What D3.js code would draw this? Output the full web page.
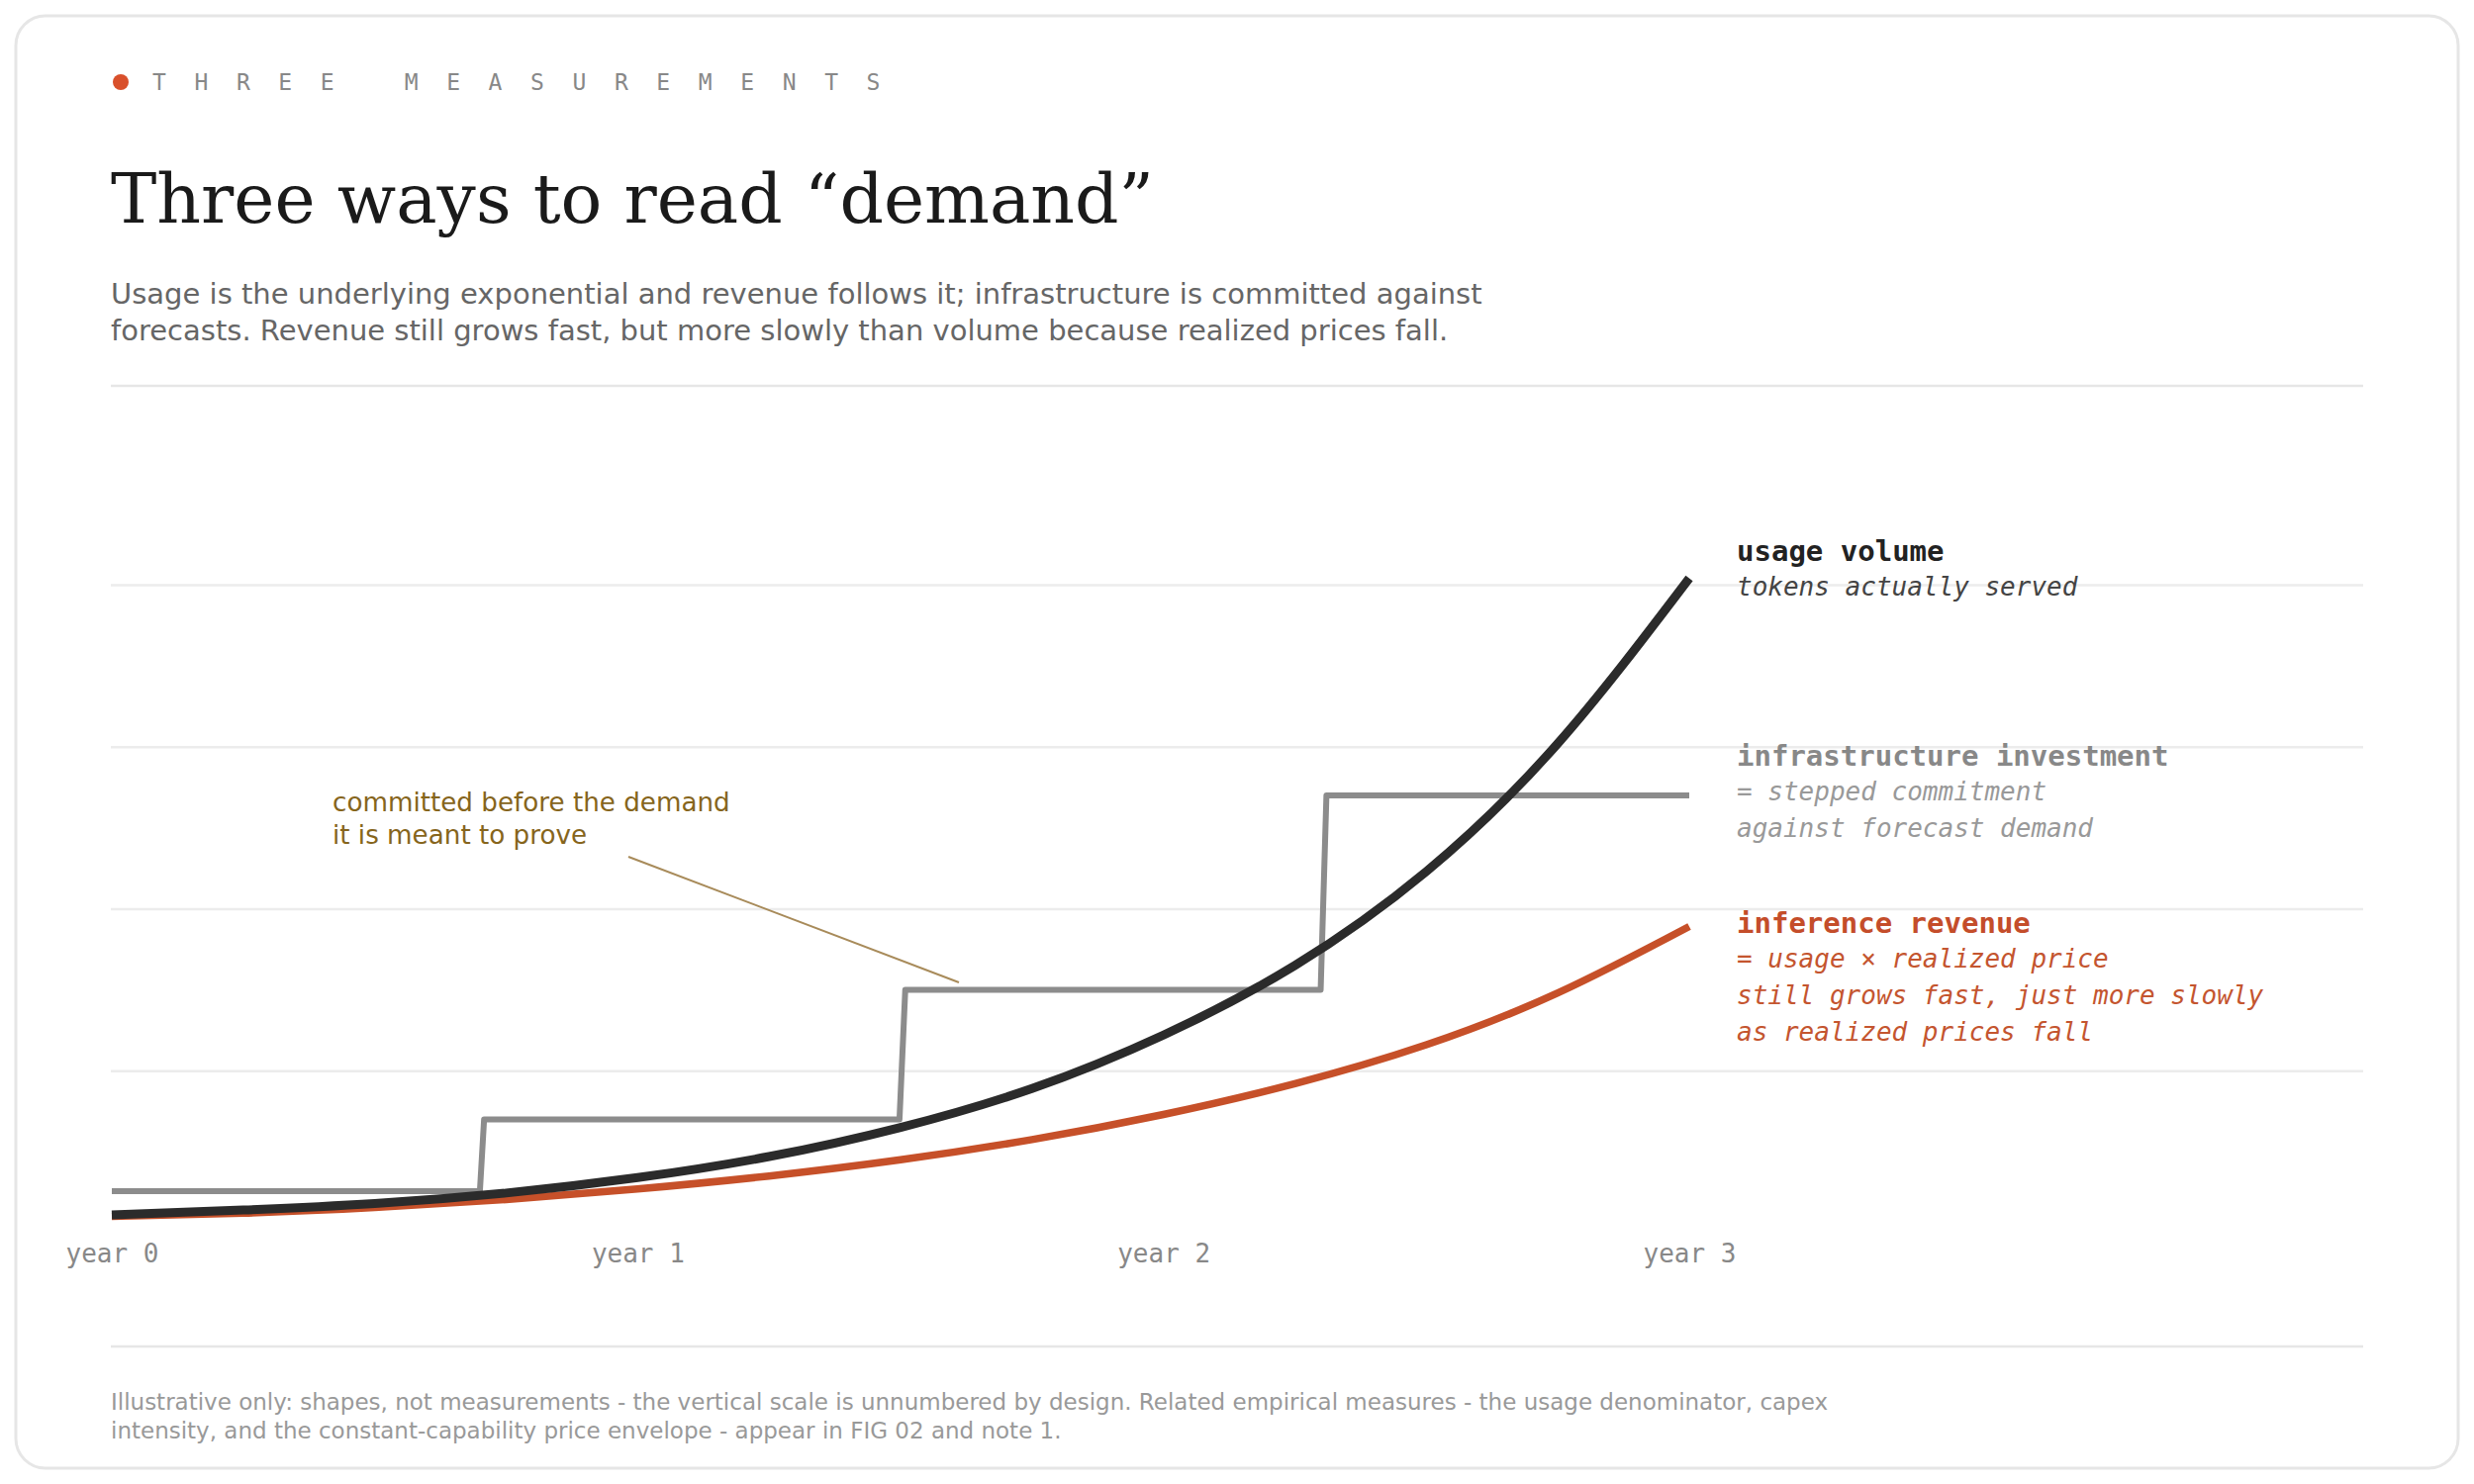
<!DOCTYPE html>
<html>
<head>
<meta charset="utf-8">
<script src="https://cdn.jsdelivr.net/npm/d3@7"></script>
<style>
  body { margin: 0; background: #fff; }
  .mono { font-family: "DejaVu Sans Mono", monospace; }
  .sans { font-family: "DejaVu Sans", sans-serif; }
</style>
</head>
<body>
<div id="chart"></div>
<script>
// Years on the x axis and the (unitless) curve shapes
const yearTicks = [0, 1, 2, 3];
const yearLabels = ["year 0", "year 1", "year 2", "year 3"];
const gridValues = [1, 2, 3, 4];

const usageT = [0, 0.25, 0.5, 0.75, 1, 1.25, 1.5, 1.75, 2, 2.25, 2.5, 2.75, 3];
const usageV = [0.11, 0.14, 0.18, 0.245, 0.34, 0.47, 0.65, 0.89, 1.22, 1.65, 2.23, 3.02, 4.04];
const revenueV = [0.10, 0.12, 0.155, 0.205, 0.27, 0.35, 0.45, 0.575, 0.73, 0.92, 1.16, 1.48, 1.89];

// stepped infrastructure commitment
const infraT = [0, 0.700, 0.708, 1.498, 1.509, 2.299, 2.310, 3];
const infraV = [0.257, 0.257, 0.70, 0.70, 1.50, 1.50, 2.70, 2.70];

const seriesLabels = [
  {name: "usage volume", sub: ["tokens actually served"], color: "#222", subColor: "#444"},
  {name: "infrastructure investment", sub: ["= stepped commitment", "against forecast demand"], color: "#888", subColor: "#999"},
  {name: "inference revenue", sub: ["= usage \u00d7 realized price", "still grows fast, just more slowly", "as realized prices fall"], color: "#c44d2a", subColor: "#c4552f"}
];

const W = 2500, H = 1500;
const svg = d3.select("#chart").append("svg")
  .attr("width", W).attr("height", H);

// card
svg.append("rect")
  .attr("x", 16).attr("y", 16).attr("width", W - 32).attr("height", H - 32)
  .attr("rx", 30).attr("fill", "#fff")
  .attr("stroke", "#e6e6e6").attr("stroke-width", 3);

// eyebrow
svg.append("circle").attr("cx", 122).attr("cy", 83).attr("r", 8).attr("fill", "#d9502b");
svg.append("text").attr("class", "mono")
  .attr("x", 154).attr("y", 91)
  .attr("font-size", 23).attr("letter-spacing", 28.6).attr("fill", "#888")
  .attr("xml:space", "preserve")
  .text("THREE MEASUREMENTS");

// title and subtitle
svg.append("text")
  .attr("x", 112).attr("y", 225)
  .style("font-family", "'DejaVu Serif', serif")
  .attr("font-size", 69.5).attr("fill", "#1a1a1a")
  .text("Three ways to read \u201cdemand\u201d");

const subLines = [
  "Usage is the underlying exponential and revenue follows it; infrastructure is committed against",
  "forecasts. Revenue still grows fast, but more slowly than volume because realized prices fall."
];
svg.append("text").attr("class", "sans")
  .attr("font-size", 29).attr("fill", "#666")
  .selectAll("tspan").data(subLines).enter().append("tspan")
  .attr("x", 112).attr("y", (d, i) => 307 + i * 37)
  .text(d => d);

svg.append("line").attr("x1", 112).attr("x2", 2388).attr("y1", 390).attr("y2", 390)
  .attr("stroke", "#e6e6e6").attr("stroke-width", 2.5);
svg.append("line").attr("x1", 112).attr("x2", 2388).attr("y1", 1361).attr("y2", 1361)
  .attr("stroke", "#e6e6e6").attr("stroke-width", 2.5);

// scales
const x = d3.scaleLinear().domain([0, 3]).range([113, 1707]);
const y = d3.scaleLinear().domain([0, 4]).range([1246, 591]);

// gridlines
svg.append("g")
  .attr("transform", "translate(112,0)")
  .call(d3.axisLeft(y).tickValues(gridValues).tickSize(-(2388 - 112)).tickFormat(""))
  .call(g => g.select(".domain").remove())
  .call(g => g.selectAll(".tick line").attr("stroke", "#ececec").attr("stroke-width", 2.5));

// x axis labels
svg.append("g")
  .attr("transform", "translate(0,1246)")
  .call(d3.axisBottom(x).tickValues(yearTicks).tickSize(0).tickPadding(12)
    .tickFormat((d, i) => yearLabels[i]))
  .call(g => g.select(".domain").remove())
  .call(g => g.selectAll("text")
    .attr("font-family", "'DejaVu Sans Mono', monospace")
    .attr("font-size", 26).attr("fill", "#888"));

const usage = usageT.map((t, i) => ({t, v: usageV[i]}));
const revenue = usageT.map((t, i) => ({t, v: revenueV[i]}));
const infra = infraT.map((t, i) => ({t, v: infraV[i]}));

const smooth = d3.line().x(d => x(d.t)).y(d => y(d.v)).curve(d3.curveNatural);
const stepped = d3.line().x(d => x(d.t)).y(d => y(d.v));

svg.append("path").datum(infra)
  .attr("d", stepped).attr("fill", "none")
  .attr("stroke", "#8c8c8c").attr("stroke-width", 6).attr("stroke-linejoin", "round");

svg.append("path").datum(revenue)
  .attr("d", smooth).attr("fill", "none")
  .attr("stroke", "#c65029").attr("stroke-width", 7.5);

svg.append("path").datum(usage)
  .attr("d", smooth).attr("fill", "none")
  .attr("stroke", "#2b2b2b").attr("stroke-width", 9);

// annotation
svg.append("line")
  .attr("x1", 635).attr("y1", 866).attr("x2", 969).attr("y2", 993)
  .attr("stroke", "#a88b5a").attr("stroke-width", 2);
svg.append("text").attr("class", "sans")
  .attr("font-size", 26.2).attr("fill", "#86651c")
  .selectAll("tspan").data(["committed before the demand", "it is meant to prove"])
  .enter().append("tspan")
  .attr("x", 336).attr("y", (d, i) => 820 + i * 33)
  .text(d => d);

// series labels on the right
const labelTops = [567, 774, 943];
seriesLabels.forEach((s, k) => {
  const g = svg.append("g").attr("class", "mono");
  g.append("text")
    .attr("x", 1755).attr("y", labelTops[k])
    .attr("font-size", 29).attr("font-weight", "bold").attr("fill", s.color)
    .text(s.name);
  s.sub.forEach((line, i) => {
    g.append("text")
      .attr("x", 1755).attr("y", labelTops[k] + 35 + i * 37)
      .attr("font-size", 26).attr("font-style", "italic").attr("fill", s.subColor)
      .text(line);
  });
});

// footnote
const foot = [
  "Illustrative only: shapes, not measurements - the vertical scale is unnumbered by design. Related empirical measures - the usage denominator, capex",
  "intensity, and the constant-capability price envelope - appear in FIG 02 and note 1."
];
svg.append("text").attr("class", "sans")
  .attr("font-size", 23).attr("fill", "#999")
  .selectAll("tspan").data(foot).enter().append("tspan")
  .attr("x", 112).attr("y", (d, i) => 1425 + i * 29)
  .text(d => d);
</script>
</body>
</html>
